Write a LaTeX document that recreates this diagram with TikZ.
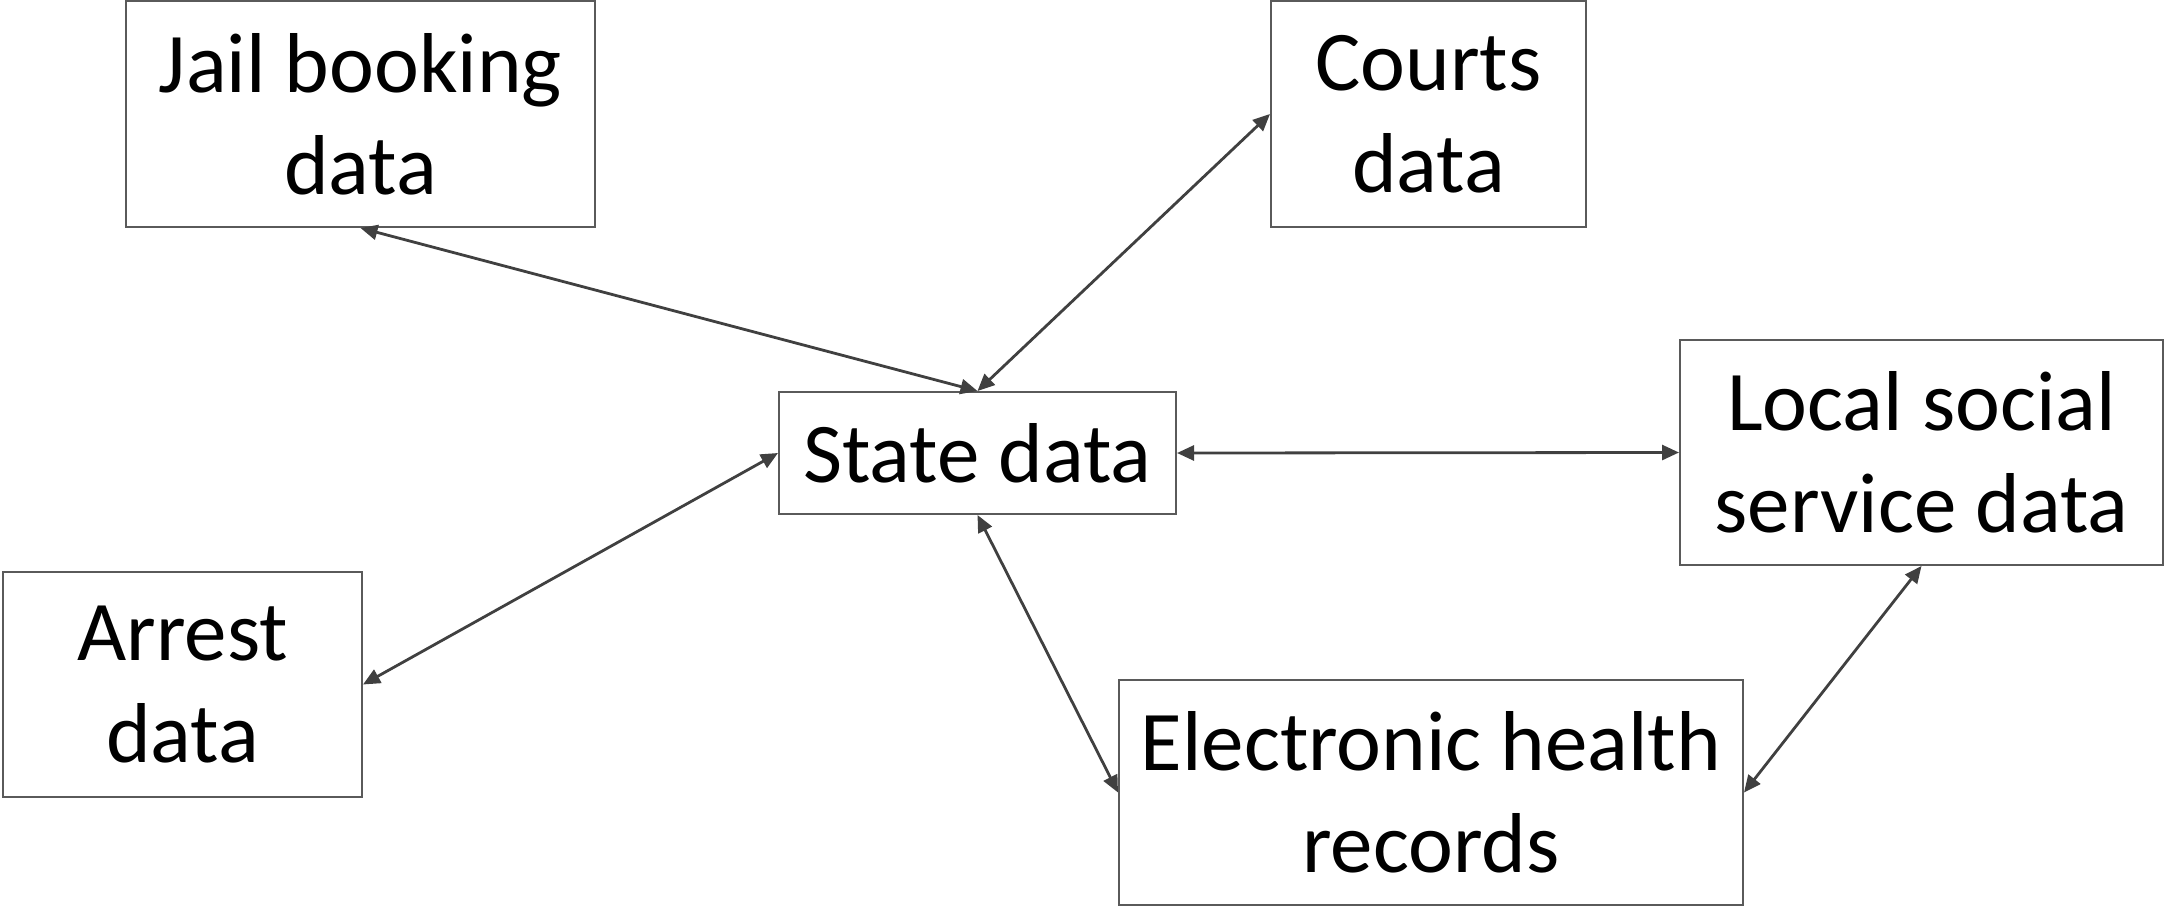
\documentclass[tikz,border=0pt]{standalone}
\usepackage{fontspec}
\setmainfont{Carlito}
\usetikzlibrary{arrows.meta}
\definecolor{boxline}{HTML}{5A5A5A}
\definecolor{linkline}{HTML}{404040}
\tikzset{
  databox/.style={draw=boxline, line width=2pt, inner sep=0pt, align=center,
    font=\fontsize{85}{102}\selectfont},
  link/.style={draw=linkline, line width=2.8pt,
    {Triangle[length=17pt,width=15pt]}-{Triangle[length=17pt,width=15pt]}}
}
\begin{document}
\begin{tikzpicture}[x=1pt,y=-1pt]
  \useasboundingbox (0,0) rectangle (2166,908);
  % data sources
  \node[databox, minimum width=469pt, minimum height=226pt] (jail)   at (360.5,114)  {Jail booking\\data};
  \node[databox, minimum width=315pt, minimum height=226pt] (courts) at (1428.5,114) {Courts\\data};
  \node[databox, minimum width=397pt, minimum height=122pt] (state)  at (977.5,453)  {State data};
  \node[databox, minimum width=483pt, minimum height=225pt] (local)  at (1921.5,452.5) {Local social\\service data};
  \node[databox, minimum width=359pt, minimum height=225pt] (arrest) at (182.5,684.5) {Arrest\\data};
  \node[databox, minimum width=624pt, minimum height=225pt] (ehr)    at (1431,792.5)  {Electronic health\\records};
  % two-way links
  \draw[link] (jail.south) -- (state.north);
  \draw[link] (courts.west) -- (state.north);
  \draw[link] (arrest.east) -- (state.west);
  \draw[link] (state.east) -- (local.west);
  \draw[link] (state.south) -- (ehr.west);
  \draw[link] (ehr.east) -- (local.south);
\end{tikzpicture}
\end{document}
